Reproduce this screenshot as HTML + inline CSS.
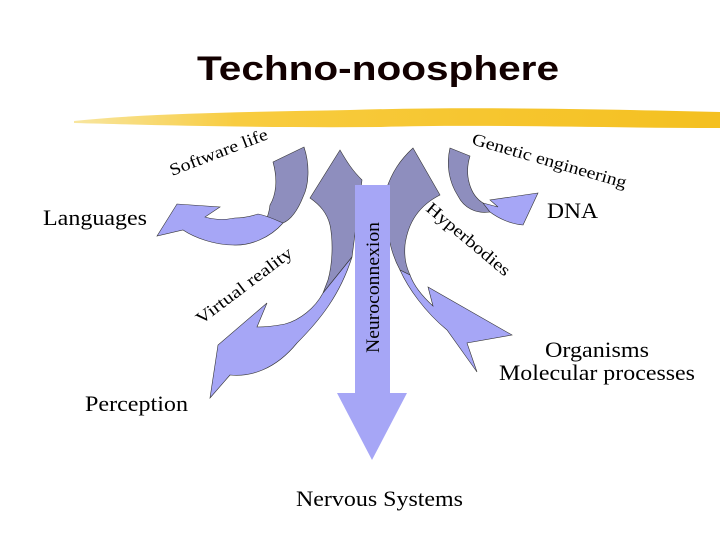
<!DOCTYPE html>
<html><head><meta charset="utf-8"><style>
html,body{margin:0;padding:0;background:#fff;}
svg{display:block;}
</style></head><body>
<svg width="720" height="540" viewBox="0 0 720 540" xmlns="http://www.w3.org/2000/svg">
<defs>
<linearGradient id="hl" x1="0" x2="1" y1="0" y2="0">
<stop offset="0" stop-color="#f8e6a0"/><stop offset="0.25" stop-color="#f8cc40"/><stop offset="1" stop-color="#f4c020"/>
</linearGradient>
</defs>
<rect width="720" height="540" fill="#fff"/>
<text x="378" y="80" text-anchor="middle" font-family="Liberation Sans, sans-serif" font-weight="bold" font-size="34" textLength="362" lengthAdjust="spacingAndGlyphs" fill="#120000">Techno-noosphere</text>
<path d="M74,121 C150,113 250,112 350,110 C450,107 560,108 720,112 L720,128 C600,128 480,124 380,127 C260,128 150,125 74,123 Z" fill="url(#hl)"/>

<!-- Software life arrow -->
<path d="M273,162 L304,147 C310,165 309,185 303,197 C297,212 290,220 283,223 L250,233 C262,228 268,222 270,205 C276,195 278,180 273,162 Z" fill="#8e8ebe" stroke="#333" stroke-width="0.6"/>
<path d="M283,223 C270,238 250,246 233,245 C215,245 195,238 183,230 L157,236 L177,204 L220,207 L205,217 C215,220 225,220 235,218 C245,218 252,216 258,214 C268,216 276,220 283,223 Z" fill="#a6a6f6" stroke="#333" stroke-width="0.6"/>

<!-- Virtual reality arrow -->
<path d="M340,150 L310,198 C320,205 327,213 330,225 C333,240 333,262 328,280 L323,293 L352,257 L362,180 C352,170 347,162 340,150 Z" fill="#8e8ebe" stroke="#333" stroke-width="0.6"/>
<path d="M323,293 C315,308 300,320 285,324 C275,326 265,327 257,327 L267,303 L218,345 L210,398 L230,375 C250,377 275,370 297,343 C320,320 340,295 352,257 Z" fill="#a6a6f6" stroke="#333" stroke-width="0.6"/>

<!-- Hyperbodies arrow -->
<path d="M413,148 L440,195 C420,205 408,222 405,245 C404,258 406,266 410,275 L400,270 C389,250 385,225 386,190 C392,172 400,160 413,148 Z" fill="#8e8ebe" stroke="#333" stroke-width="0.6"/>
<path d="M400,270 C408,288 425,312 447,330 L477,372 L467,343 L512,335 L428,287 L433,306 C422,296 414,286 410,275 Z" fill="#a6a6f6" stroke="#333" stroke-width="0.6"/>

<!-- Genetic engineering arrow -->
<path d="M450,148 L470,156 C464,175 470,195 483,203 L490,212 C476,214 464,208 458,196 C449,182 446,165 450,148 Z" fill="#8e8ebe" stroke="#333" stroke-width="0.6"/>
<path d="M483,203 L498,207 L490,200 L538,193 L523,225 C510,224 498,218 490,212 Z" fill="#a6a6f6" stroke="#333" stroke-width="0.6"/>

<!-- Neuroconnexion arrow -->
<path d="M355,185 L390,185 L390,393 L407,393 L372,460 L337,393 L355,393 Z" fill="#a6a6f6"/>
<text transform="translate(379,353) rotate(-90)" font-family="Liberation Serif, serif" font-size="19" textLength="131" lengthAdjust="spacingAndGlyphs" fill="#000">Neuroconnexion</text>

<g font-family="Liberation Serif, serif" fill="#000" font-size="22">
<text x="43" y="225" textLength="104" lengthAdjust="spacingAndGlyphs">Languages</text>
<text x="85" y="411" textLength="103" lengthAdjust="spacingAndGlyphs">Perception</text>
<text x="296" y="506" textLength="167" lengthAdjust="spacingAndGlyphs">Nervous Systems</text>
<text x="547" y="218" textLength="51" lengthAdjust="spacingAndGlyphs">DNA</text>
<text x="545" y="357" textLength="104" lengthAdjust="spacingAndGlyphs">Organisms</text>
<text x="499" y="380" textLength="196" lengthAdjust="spacingAndGlyphs">Molecular processes</text>
</g>
<g font-family="Liberation Serif, serif" fill="#000" font-size="17">
<text transform="translate(172,176) rotate(-21)" textLength="104" lengthAdjust="spacingAndGlyphs">Software life</text>
<text transform="translate(201,325) rotate(-37)" textLength="116" lengthAdjust="spacingAndGlyphs">Virtual reality</text>
<text transform="translate(471,144) rotate(16)" textLength="160" lengthAdjust="spacingAndGlyphs">Genetic engineering</text>
<text transform="translate(425,210) rotate(40)" textLength="104" lengthAdjust="spacingAndGlyphs">Hyperbodies</text>
</g>
</svg>
</body></html>
